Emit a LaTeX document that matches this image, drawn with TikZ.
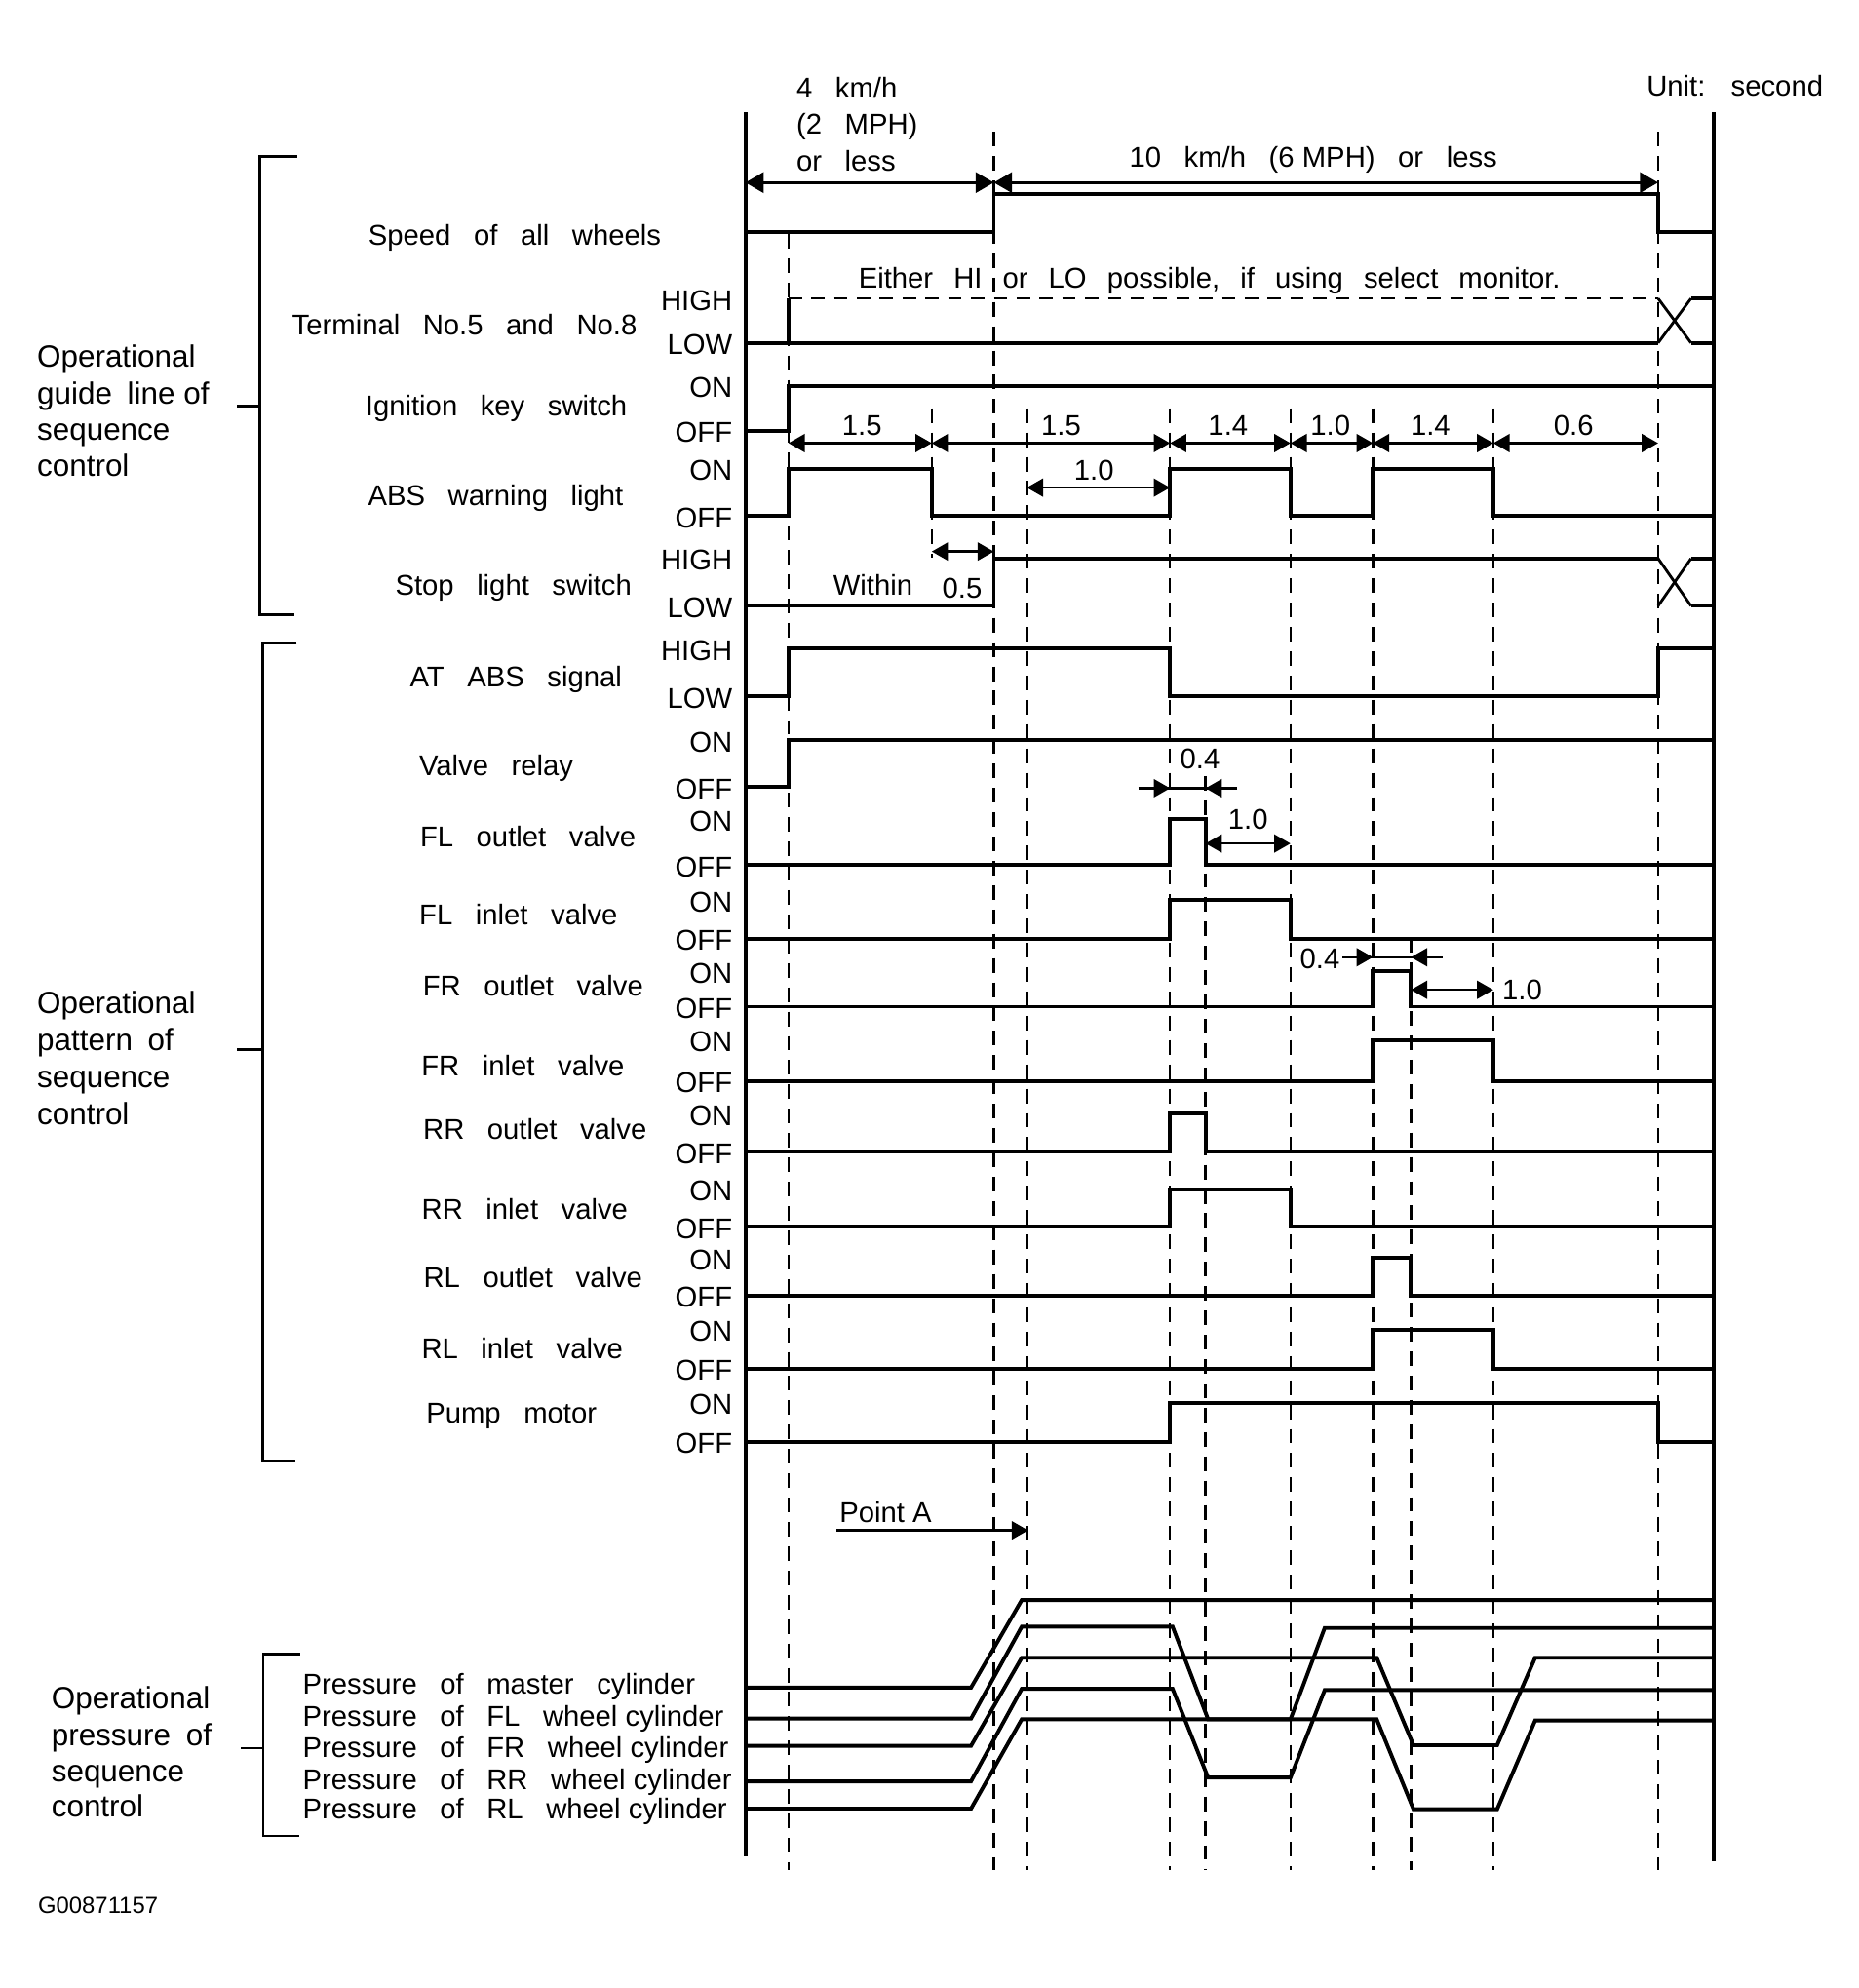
\documentclass[tikz,border=0pt]{standalone}
\usepackage{fontspec}
\setmainfont{Liberation Sans}[WordSpace=2.9]
\usetikzlibrary{arrows.meta}
\def\nsp{\hspace{0.28em}}
\def\eitherfont{\fontsize{13.5}{16}\selectfont\spaceskip 0.72em\relax}
\def\grpfont{\fontsize{14.5}{17}\selectfont\spaceskip 0.5em\relax}
\def\xL{588}\def\xR{1352}
\def\xO{622}\def\xA{735}\def\xB{784}\def\xC{810}\def\xD{923}\def\xE{951}
\def\xF{1018}\def\xG{1083}\def\xH{1113}\def\xI{1178}\def\xJ{1308}
\tikzset{dtip/.tip={Triangle[length=7.7pt,width=8.5pt]},
         btip/.tip={Triangle[length=8.6pt,width=9.6pt]}}
\begin{document}
\begin{tikzpicture}[x=0.6pt,y=-0.6pt,
  every node/.style={inner sep=0pt, font=\fontsize{13.5}{16}\selectfont},
  sig/.style={line width=1.8pt, line join=miter, line cap=butt},
  xstroke/.style={line width=1.3pt},
  frm/.style={line width=1.8pt},
  guide/.style={line width=1.1pt, dash pattern=on 6.9pt off 4.6pt},
  hidash/.style={line width=1.2pt, dash pattern=on 6.3pt off 4.5pt},
  brk/.style={line width=1.3pt},
  dim/.style={line width=1.1pt, {dtip}-{dtip}},
  dimbig/.style={line width=1.3pt, {btip}-{btip}},
  onetip/.style={line width=1.1pt, -{dtip}},
  lvl/.style={anchor=base east, yshift=-5.6pt},
  nm/.style={anchor=base},
  grp/.style={anchor=base west, font=\grpfont},
  lb/.style={anchor=base},
  lbw/.style={anchor=base west}
]
\fill[white] (0,0) rectangle (1466,1568);
\useasboundingbox (0,0) rectangle (1466,1568);

% ---------- dashed time guides ----------
\draw[guide] (\xO,184.6) -- (\xO,1475);
\draw[guide] (\xA,322) -- (\xA,440);
\draw[guide] (\xB,104) -- (\xB,1475);
\draw[guide] (\xC,322) -- (\xC,1475);
\draw[guide] (\xD,322) -- (\xD,1475);
\draw[guide] (\xE,612) -- (\xE,1475);
\draw[guide] (\xF,322) -- (\xF,1475);
\draw[guide] (\xG,322) -- (\xG,1475);
\draw[guide] (\xH,740) -- (\xH,1475);
\draw[guide] (\xI,322) -- (\xI,1475);
\draw[guide] (\xJ,104) -- (\xJ,1475);

% ---------- frame ----------
\draw[frm] (\xL,88.5) -- (\xL,1464);
\draw[frm] (\xR,88.5) -- (\xR,1468);

% ---------- top texts ----------
\node[lbw] (t4) at (628,77) {4 km/h};
\node[lbw] (t2) at (628,105.6) {(2 MPH)};
\node[lbw] (tless) at (628,134.6) {or less};
\node[lb] (t10) at (1036,132) {10 km/h (6\nsp MPH) or less};
\node[anchor=base east] (unit) at (1438.4,75.6) {Unit: second};
\draw[dimbig] (\xL,144) -- (\xB,144);
\draw[dimbig] (\xB,144) -- (\xJ,144);

% ---------- signals ----------
% speed
\draw[sig] (\xL,183.3) -- (\xB,183.3) -- (\xB,153.3) -- (\xJ,153.3) -- (\xJ,183.3) -- (\xR,183.3);
% terminal
\node[lbw, font=\eitherfont] (either) at (677,227) {Either HI or LO possible, if using select monitor.};
\draw[hidash] (\xO,235.4) -- (\xJ,235.4);
\draw[sig] (\xL,270.5) -- (\xJ,270.5);
\draw[sig] (\xO,270.5) -- (\xO,235.4);
\draw[xstroke] (\xJ,270.5) -- (1334,235.4);
\draw[xstroke] (\xJ,235.4) -- (1334,270.5);
\draw[sig] (1334,235.4) -- (\xR,235.4);
\draw[sig] (1334,270.5) -- (\xR,270.5);
% ignition
\draw[sig] (\xL,339.7) -- (\xO,339.7) -- (\xO,304.3) -- (\xR,304.3);
% dimension row
\draw[dim] (\xO,349.5) -- (\xA,349.5);
\draw[dim] (\xA,349.5) -- (\xD,349.5);
\draw[dim] (\xD,349.5) -- (\xF,349.5);
\draw[dim] (\xF,349.5) -- (\xG,349.5);
\draw[dim] (\xG,349.5) -- (\xI,349.5);
\draw[dim] (\xI,349.5) -- (\xJ,349.5);
\node[lb] (d1) at (680,343.6) {1.5};
\node[lb] (d2) at (837,343.6) {1.5};
\node[lb] (d3) at (968.8,343.6) {1.4};
\node[lb] (d4) at (1049.5,343.6) {1.0};
\node[lb] (d5) at (1128.4,343.6) {1.4};
\node[lb] (d6) at (1241.3,343.6) {0.6};
% ABS warning
\draw[sig] (\xL,406.9) -- (\xO,406.9) -- (\xO,369.7) -- (\xA,369.7) -- (\xA,406.9) -- (\xD,406.9) -- (\xD,369.7) -- (\xF,369.7) -- (\xF,406.9) -- (\xG,406.9) -- (\xG,369.7) -- (\xI,369.7) -- (\xI,406.9) -- (\xR,406.9);
\draw[dim] (\xC,384.6) -- (\xD,384.6);
\node[lb] (d7) at (863,379) {1.0};
% stop light
\draw[sig] (\xL,477.9) -- (\xB,477.9) -- (\xB,440.5) -- (\xJ,440.5);
\draw[xstroke] (\xJ,440.5) -- (1334,477.9);
\draw[xstroke] (\xJ,477.9) -- (1334,440.5);
\draw[sig] (1334,440.5) -- (\xR,440.5);
\draw[sig] (1334,477.9) -- (\xR,477.9);
\draw[dim] (\xA,435) -- (\xB,435);
\node[lbw] (within) at (657,469.5) {Within};
\node[lbw] (d8) at (743,471.7) {0.5};
% AT ABS signal
\draw[sig] (\xL,549.2) -- (\xO,549.2) -- (\xO,511.5) -- (\xD,511.5) -- (\xD,549.2) -- (\xJ,549.2) -- (\xJ,511.5) -- (\xR,511.5);
% valve relay
\draw[sig] (\xL,620.5) -- (\xO,620.5) -- (\xO,584) -- (\xR,584);
% FL 0.4
\draw[line width=1.1pt] (898,621.7) -- (976,621.7);
\draw[onetip] (898,621.7) -- (\xD,621.7);
\draw[onetip] (976,621.7) -- (\xE,621.7);
\node[lbw] (d9) at (930.7,606.4) {0.4};
% FL outlet
\draw[sig] (\xL,682) -- (\xD,682) -- (\xD,646.1) -- (\xE,646.1) -- (\xE,682) -- (\xR,682);
\draw[dim] (\xE,665.3) -- (\xF,665.3);
\node[lb] (d10) at (984.5,653.8) {1.0};
% FL inlet
\draw[sig] (\xL,740.2) -- (\xD,740.2) -- (\xD,709.7) -- (\xF,709.7) -- (\xF,740.2) -- (\xR,740.2);
% FR 0.4
\draw[line width=1.1pt] (1059,755) -- (1138,755);
\draw[onetip] (1059,755) -- (\xG,755);
\draw[onetip] (1138,755) -- (\xH,755);
\node[lbw] (d11) at (1025.2,764) {0.4};
% FR outlet
\draw[sig] (\xL,794) -- (\xG,794) -- (\xG,766) -- (\xH,766) -- (\xH,794) -- (\xR,794);
\draw[dim] (\xH,780.7) -- (\xI,780.7);
\node[lbw] (d12) at (1184.8,788.4) {1.0};
% FR inlet
\draw[sig] (\xL,852.5) -- (\xG,852.5) -- (\xG,820.4) -- (\xI,820.4) -- (\xI,852.5) -- (\xR,852.5);
% RR outlet
\draw[sig] (\xL,908.3) -- (\xD,908.3) -- (\xD,878.1) -- (\xE,878.1) -- (\xE,908.3) -- (\xR,908.3);
% RR inlet
\draw[sig] (\xL,967.3) -- (\xD,967.3) -- (\xD,937.9) -- (\xF,937.9) -- (\xF,967.3) -- (\xR,967.3);
% RL outlet
\draw[sig] (\xL,1021.7) -- (\xG,1021.7) -- (\xG,992.2) -- (\xH,992.2) -- (\xH,1021.7) -- (\xR,1021.7);
% RL inlet
\draw[sig] (\xL,1079.4) -- (\xG,1079.4) -- (\xG,1048.6) -- (\xI,1048.6) -- (\xI,1079.4) -- (\xR,1079.4);
% pump motor
\draw[sig] (\xL,1137) -- (\xD,1137) -- (\xD,1106.3) -- (\xJ,1106.3) -- (\xJ,1137) -- (\xR,1137);

% ---------- level labels ----------
\foreach \lab/\yy [count=\i] in {HIGH/235.4, LOW/270.5, ON/304.3, OFF/339.7, ON/369.7, OFF/406.9,
  HIGH/440.5, LOW/477.9, HIGH/511.5, LOW/549.2, ON/584, OFF/620.5, ON/646.1, OFF/682,
  ON/709.7, OFF/740.2, ON/766, OFF/794, ON/820.4, OFF/852.5, ON/878.1, OFF/908.3,
  ON/937.9, OFF/967.3, ON/992.2, OFF/1021.7, ON/1048.6, OFF/1079.4, ON/1106.3, OFF/1137}
  \node[lvl] (lv\i) at (578,\yy) {\lab};

% ---------- signal names ----------
\node[nm] (n1) at (406,193.6) {Speed of all wheels};
\node[nm] (n2) at (366.5,264) {Terminal No.5 and No.8};
\node[nm] (n3) at (391.5,327.7) {Ignition key switch};
\node[nm] (n4) at (391,398.7) {ABS warning light};
\node[nm] (n5) at (405,469.7) {Stop light switch};
\node[nm] (n6) at (407,541.5) {AT ABS signal};
\node[nm] (n7) at (391.5,611.5) {Valve relay};
\node[nm] (n8) at (416.5,667.5) {FL outlet valve};
\node[nm] (n9) at (409,729.5) {FL inlet valve};
\node[nm] (n10) at (420.5,785.5) {FR outlet valve};
\node[nm] (n11) at (412.5,848.5) {FR inlet valve};
\node[nm] (n12) at (422,898.5) {RR outlet valve};
\node[nm] (n13) at (414,961.5) {RR inlet valve};
\node[nm] (n14) at (420.5,1015.5) {RL outlet valve};
\node[nm] (n15) at (412,1071.5) {RL inlet valve};
\node[nm] (n16) at (403.5,1122.5) {Pump motor};

% ---------- brackets ----------
\draw[brk] (234.5,123.6) -- (205,123.6) -- (205,485) -- (232,485);
\draw[brk] (187,320) -- (205,320);
\draw[brk] (234,507) -- (207,507) -- (207,1152) -- (233,1152);
\draw[brk] (187,828) -- (207,828);
\draw[brk] (236.7,1304.5) -- (207.6,1304.5) -- (207.6,1448) -- (236,1448);
\draw[brk] (190,1378.8) -- (207.6,1378.8);

\node[grp] (g1a) at (29,289.7) {Operational};
\node[grp] (g1b) at (29,318.4) {guide line\nsp of};
\node[grp] (g1c) at (29,347.4) {sequence};
\node[grp] (g1d) at (29,375.6) {control};
\node[grp] (g2a) at (29,799.7) {Operational};
\node[grp] (g2b) at (29,828.7) {pattern of};
\node[grp] (g2c) at (29,857.7) {sequence};
\node[grp] (g2d) at (29,886.7) {control};
\node[grp] (g3a) at (40.3,1347.3) {Operational};
\node[grp] (g3b) at (40.3,1376.8) {pressure of};
\node[grp] (g3c) at (40.3,1405) {sequence};
\node[grp] (g3d) at (40.3,1433.2) {control};

% ---------- Point A ----------
\node[lbw] (ptA) at (662,1200.7) {Point\nsp A};
\draw[onetip] (660,1207) -- (811,1207);

% ---------- pressure curves ----------
\draw[sig] (\xL,1331) -- (766,1331) -- (806,1262) -- (\xR,1262);
\draw[sig] (\xL,1355.5) -- (766,1355.5) -- (806,1283) -- (925,1283) -- (953,1356) -- (1018,1356) -- (1045,1284) -- (\xR,1284);
\draw[sig] (\xL,1377) -- (766,1377) -- (806,1307.5) -- (1086,1307.5) -- (1115,1376.5) -- (1181,1376.5) -- (1211,1307.5) -- (\xR,1307.5);
\draw[sig] (\xL,1405) -- (766,1405) -- (806,1332) -- (925,1332) -- (953,1402) -- (1018,1402) -- (1045,1333) -- (\xR,1333);
\draw[sig] (\xL,1426.5) -- (766,1426.5) -- (806,1356) -- (1086,1356) -- (1115,1427) -- (1181,1427) -- (1211,1357) -- (\xR,1357);

\node[anchor=base west] (p1) at (238.6,1336.3) {Pressure of master cylinder};
\node[anchor=base west] (p2) at (238.6,1361.4) {Pressure of FL wheel\nsp cylinder};
\node[anchor=base west] (p3) at (238.6,1385.8) {Pressure of FR wheel\nsp cylinder};
\node[anchor=base west] (p4) at (238.6,1411.4) {Pressure of RR wheel\nsp cylinder};
\node[anchor=base west] (p5) at (238.6,1434.5) {Pressure of RL wheel\nsp cylinder};

\node[anchor=base west, font=\fontsize{11}{13}\selectfont] (code) at (29.8,1508.8) {G00871157};
\end{tikzpicture}
\end{document}
